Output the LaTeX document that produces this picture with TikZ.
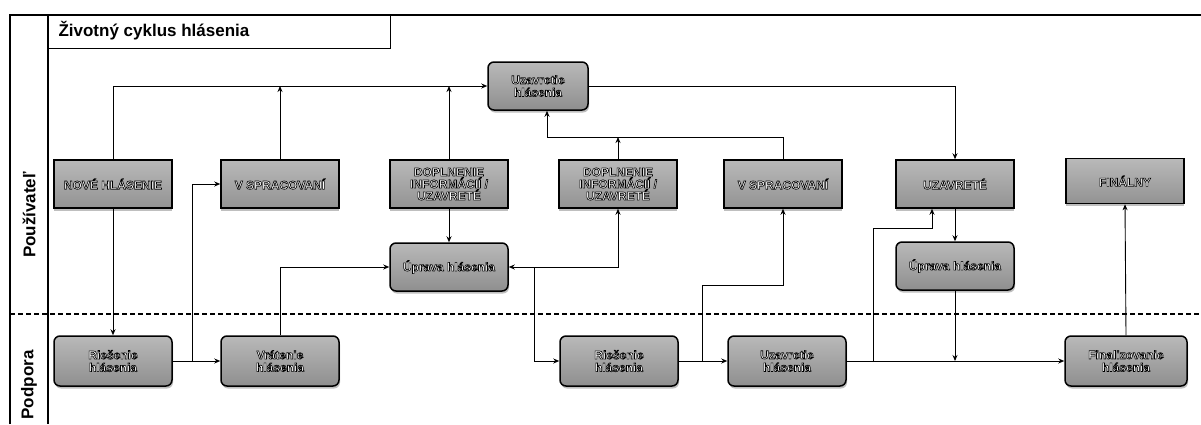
\documentclass[tikz,border=0pt]{standalone}
\usepackage{fontspec}
\setmainfont{Liberation Sans}
\usetikzlibrary{arrows.meta,shadows,calc}
\newcommand{\outl}[1]{\special{pdf:literal direct 2 Tr 0.6 w 0 G}#1\special{pdf:literal direct 0 Tr}}
\tikzset{
  status/.style={rectangle, draw=black, line width=1.5pt, minimum width=118pt, minimum height=48pt,
    top color=gray!55, bottom color=gray!85, align=center, text=white, font=\bfseries\fontsize{12}{12}\selectfont,
    inner sep=1pt, drop shadow={shadow xshift=0pt, shadow yshift=-2.5pt, fill=gray!50, opacity=1}},
  activity/.style={rectangle, rounded corners=6pt, draw=black, line width=1.5pt, minimum width=118pt, minimum height=50pt,
    top color=gray!55, bottom color=gray!88, align=center, text=white, font=\bfseries\fontsize{12}{12.5}\selectfont,
    inner sep=1pt, drop shadow={shadow xshift=1pt, shadow yshift=-2.5pt, fill=gray!50, opacity=1}},
  conn/.style={draw=black, line width=0.9pt, -{Stealth[length=6pt,width=5pt]}},
  frame/.style={draw=black, line width=1.4pt},
  lane/.style={font=\bfseries\fontsize{17}{17}\selectfont, rotate=90}
}
\begin{document}
\begin{tikzpicture}[x=1pt,y=-1pt]
\useasboundingbox (0,0) rectangle (1201,424);
\fill[white] (0,0) rectangle (1201,424);
% frame
\draw[frame] (10,424) -- (10,15) -- (1201,15);
\draw[frame] (48,15) -- (48,424);
\node[draw=black, line width=1.2pt, minimum width=342pt, minimum height=33pt, anchor=north west, inner sep=0pt] (title) at (48,15) {};
\node[anchor=west, font=\bfseries\fontsize{17}{18}\selectfont] (titletext) at (55,31) {Životný cyklus hlásenia};
\draw[line width=1.3pt, dash pattern=on 5pt off 3pt] (10,314) -- (1201,314);
\node[lane] (lane1) at (29,215) {Používateľ};
\node[lane] (lane2) at (29,385) {Podpora};
% nodes
\node[activity, minimum width=100pt, minimum height=48pt] (u1) at (538,86) {\outl{Uzavretie}\\\outl{hlásenia}};
\node[status] (s1) at (113,184) {\outl{NOVÉ HLÁSENIE}};
\node[status] (s2) at (280,184) {\outl{V SPRACOVANÍ}};
\node[status] (s3) at (449,184) {\outl{DOPLNENIE}\\\outl{INFORMÁCIÍ /}\\\outl{UZAVRETÉ}};
\node[status] (s4) at (618,184) {\outl{DOPLNENIE}\\\outl{INFORMÁCIÍ /}\\\outl{UZAVRETÉ}};
\node[status] (s5) at (783,184) {\outl{V SPRACOVANÍ}};
\node[status] (s6) at (955,184) {\outl{UZAVRETÉ}};
\node[status, minimum height=45pt] (s7) at (1125,181) {\outl{FINÁLNY}};
\node[activity, minimum height=48pt] (e1) at (449,267) {\outl{Úprava hlásenia}};
\node[activity, minimum height=48pt] (e2) at (955,266) {\outl{Úprava hlásenia}};
\node[activity] (r1) at (113,361) {\outl{Riešenie}\\\outl{hlásenia}};
\node[activity] (v1) at (280,361) {\outl{Vrátenie}\\\outl{hlásenia}};
\node[activity] (r2) at (619,361) {\outl{Riešenie}\\\outl{hlásenia}};
\node[activity] (u2) at (787,361) {\outl{Uzavretie}\\\outl{hlásenia}};
\node[activity, minimum width=122pt] (f1) at (1126,361) {\outl{Finalizovanie}\\\outl{hlásenia}};
% junction coordinates
\coordinate (c1) at (547,137);
\coordinate (j0) at (192,361);
\coordinate (j1) at (534,267);
\coordinate (j2) at (702,361);
\coordinate (k2) at (702,285);
\coordinate (j3) at (873,361);
\coordinate (k3) at (873,228);
\coordinate (k3b) at (932,228);
% connectors
\draw[conn] (s1.north) |- (u1.west);
\draw[conn] (s2.north) -- (s2.north |- u1.west);
\draw[conn] (s3.north) -- (s3.north |- u1.west);
\draw[conn] (u1.east) -| (s6.north);
\draw[conn] (s5.north) |- (c1) -- (u1.south -| c1);
\draw[conn] (s4.north) -- (s4.north |- c1);
\draw[conn] (s1.south) -- (r1.north);
\draw[conn] (r1.east) -- (v1.west);
\draw[conn] (j0) |- (s2.west);
\draw[conn] (v1.north) |- (e1.west);
\draw[conn] (s3.south) -- (e1.north);
\draw[conn] (j1) -- (e1.east);
\draw[conn] (j1) -| (s4.south);
\draw[conn] (j1) |- (r2.west);
\draw[conn] (r2.east) -- (u2.west);
\draw[conn] (j2) -- (k2) -| (s5.south);
\draw[conn] (u2.east) -- (f1.west);
\draw[conn] (j3) -- (k3) -- (k3b) -- (s6.south -| k3b);
\draw[conn] (s6.south) -- (e2.north);
\draw[conn] (e2.south) -- (e2.south |- u2.east);
\draw[conn] (f1.north) -- (s7.south);
\end{tikzpicture}
\end{document}
